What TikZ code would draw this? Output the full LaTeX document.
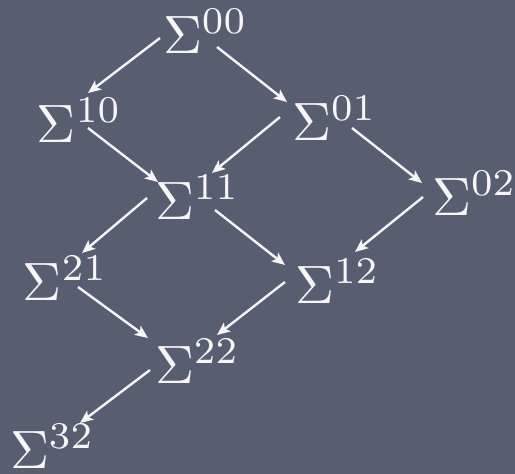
\documentclass[tikz,border=0pt]{standalone}
\usetikzlibrary{arrows.meta}
\definecolor{bgslate}{RGB}{86,94,111}
\definecolor{chalk}{RGB}{246,246,248}
\tikzset{
  sig/.style={anchor=base west, inner sep=0pt, outer sep=0pt, text=chalk,
    font=\fontsize{10}{12}\selectfont, scale=5.4},
  arr/.style={draw=chalk, line width=2.4pt,
    -{Stealth[length=13pt,width=11pt,inset=3pt]}}
}
\begin{document}
\begin{tikzpicture}[x=1pt,y=-1pt]
\fill[bgslate] (0,0) rectangle (515,474);
\useasboundingbox (0,0) rectangle (515,474);
\node[sig] (n00) at (163,53) {$\Sigma^{00}$};
\node[sig] (n10) at (37,142) {$\Sigma^{10}$};
\node[sig] (n01) at (292,140) {$\Sigma^{01}$};
\node[sig] (n11) at (155,219) {$\Sigma^{11}$};
\node[sig] (n02) at (432,215) {$\Sigma^{02}$};
\node[sig] (n21) at (23,300) {$\Sigma^{21}$};
\node[sig] (n12) at (295,303) {$\Sigma^{12}$};
\node[sig] (n22) at (155,383) {$\Sigma^{22}$};
\node[sig] (n32) at (10,468) {$\Sigma^{32}$};
\draw[arr] ([shift={(-3,-15)}]n00.base west) -- ([shift={(51,-49)}]n10.base west);
\draw[arr] ([shift={(54,-6)}]n00.base west) -- ([shift={(-5,-38)}]n01.base west);
\draw[arr] ([shift={(51,-14)}]n10.base west) -- ([shift={(3,-37)}]n11.base west);
\draw[arr] ([shift={(-12,-23)}]n01.base west) -- ([shift={(57,-46)}]n11.base west);
\draw[arr] ([shift={(60,-12)}]n01.base west) -- ([shift={(-10,-32)}]n02.base west);
\draw[arr] ([shift={(-8,-21)}]n11.base west) -- ([shift={(59,-47)}]n21.base west);
\draw[arr] ([shift={(60,-9)}]n11.base west) -- ([shift={(-10,-38)}]n12.base west);
\draw[arr] ([shift={(-9,-18)}]n02.base west) -- ([shift={(60,-51)}]n12.base west);
\draw[arr] ([shift={(55,-13)}]n21.base west) -- ([shift={(-7,-45)}]n22.base west);
\draw[arr] ([shift={(-10,-21)}]n12.base west) -- ([shift={(62,-48)}]n22.base west);
\draw[arr] ([shift={(-5,-13)}]n22.base west) -- ([shift={(70,-45)}]n32.base west);
\end{tikzpicture}
\end{document}
